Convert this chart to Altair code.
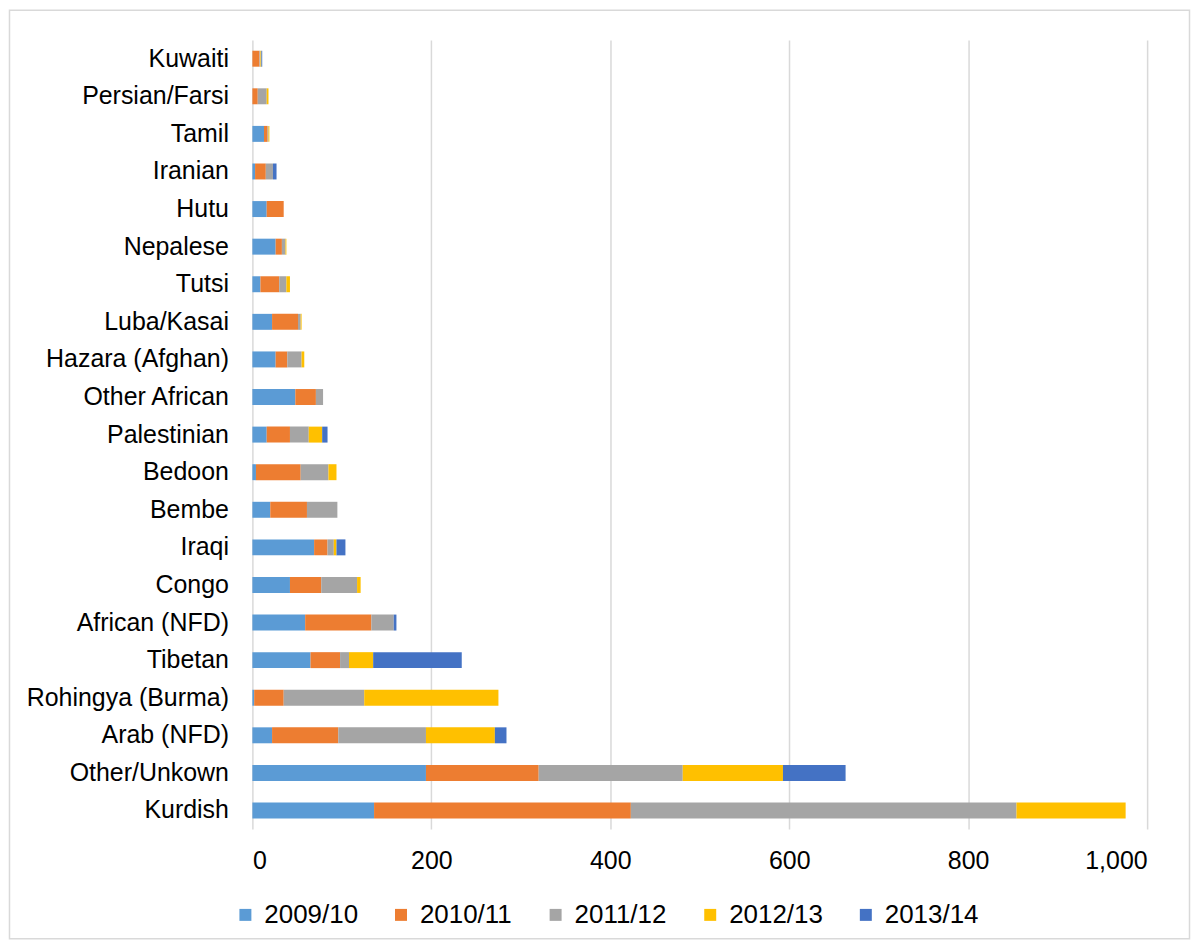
import altair as alt
import pandas as pd

categories = ["Kuwaiti", "Persian/Farsi", "Tamil", "Iranian", "Hutu", "Nepalese", "Tutsi",
              "Luba/Kasai", "Hazara (Afghan)", "Other African", "Palestinian", "Bedoon",
              "Bembe", "Iraqi", "Congo", "African (NFD)", "Tibetan", "Rohingya (Burma)",
              "Arab (NFD)", "Other/Unkown", "Kurdish"]
years = ["2009/10", "2010/11", "2011/12", "2012/13", "2013/14"]
colors = ["#5B9BD5", "#ED7D31", "#A5A5A5", "#FFC000", "#4472C4"]

y2009 = [0, 0, 13, 3, 16, 26, 9, 22, 26, 48, 16, 4, 20, 69, 42, 59, 65, 2, 22, 194, 136]
y2010 = [8, 6, 4, 12, 19, 7, 21, 29, 13, 23, 26, 50, 41, 15, 35, 74, 33, 33, 74, 126, 287]
y2011 = [1, 10, 1, 8, 0, 4, 8, 3, 16, 8, 21, 31, 34, 7, 40, 25, 10, 90, 98, 161, 431]
y2012 = [1, 2, 1, 0, 0, 1, 4, 1, 3, 0, 15, 9, 0, 3, 4, 0, 27, 150, 77, 112, 122]
y2013 = [1, 0, 0, 4, 0, 0, 0, 0, 0, 0, 6, 0, 0, 10, 0, 3, 99, 0, 13, 70, 0]

series = [y2009, y2010, y2011, y2012, y2013]
rows = []
for yi, (yr, vals) in enumerate(zip(years, series)):
    for c, v in zip(categories, vals):
        rows.append({"group": c, "year": yr, "count": v, "order": yi})
df = pd.DataFrame(rows)

FONT = "Liberation Sans"

bars = alt.Chart(df).mark_bar(size=16).encode(
    y=alt.Y("group:N", sort=categories, title=None,
            scale=alt.Scale(paddingInner=0.57, paddingOuter=0.28),
            axis=alt.Axis(ticks=False, domain=False, grid=False, labelPadding=24,
                          labelLimit=400,
                          labelFontSize=25, labelColor="#000000", labelFont=FONT)),
    x=alt.X("count:Q", title=None, stack="zero",
            scale=alt.Scale(domain=[0, 1000], nice=False),
            axis=alt.Axis(values=[0, 200, 400, 600, 800, 1000], format=",d",
                          ticks=False, tickSize=0, domain=False, grid=True,
                          gridColor="#d9d9d9", gridWidth=1.5, labelPadding=19,
                          labelFontSize=25, labelColor="#000000", labelFont=FONT)),
    color=alt.Color("year:N", scale=alt.Scale(domain=years, range=colors),
                    legend=alt.Legend(title=None, orient="none", direction="horizontal",
                                      legendX=-20, legendY=864, symbolType="square",
                                      symbolSize=144, symbolStrokeWidth=0,
                                      labelFontSize=26, labelFont=FONT,
                                      labelColor="#000000", labelOffset=6,
                                      columnPadding=30)),
    order=alt.Order("order:Q", sort="ascending"),
)

border = alt.Chart(alt.Data(values=[{"a": 1}])).mark_rect(
    fill=None, stroke="#d9d9d9", strokeWidth=1.5
).encode(
    x=alt.value(-243.5), x2=alt.value(939.5), y=alt.value(-30), y2=alt.value(901)
)

chart = alt.layer(border, bars).properties(
    width=897, height=791, padding=0, background="#ffffff"
).configure_view(stroke=None)

chart.save("out.html", embed_options={"renderer": "svg", "actions": False})
